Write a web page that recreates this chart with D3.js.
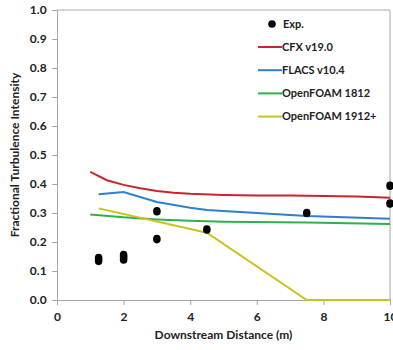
<!DOCTYPE html>
<html>
<head>
<meta charset="utf-8">
<script src="https://cdn.jsdelivr.net/npm/d3@7"></script>
<style>
  body { margin: 0; background: #fff; }
  text { font-family: Lato, "Open Sans", sans-serif; font-weight: bold; fill: #222; }
</style>
</head>
<body>
<div id="chart"></div>
<script>
// experimental points
var expX = [1.25, 1.25, 2, 2, 2, 3, 3, 4.5, 7.5, 10, 10];
var expY = [0.145, 0.135, 0.155, 0.148, 0.14, 0.306, 0.21, 0.243, 0.3, 0.394, 0.333];

// simulation lines
var cfxX = [1, 1.5, 2, 2.5, 3, 3.5, 4, 5, 6, 7, 8, 9, 10];
var cfxY = [0.442, 0.413, 0.397, 0.385, 0.376, 0.37, 0.366, 0.362, 0.36, 0.36, 0.359, 0.357, 0.353];
var flacsX = [1.25, 2, 3, 4, 4.5, 6, 7.5, 10];
var flacsY = [0.365, 0.372, 0.338, 0.318, 0.31, 0.3, 0.29, 0.28];
var of1812X = [1, 2, 3, 4, 5, 7.5, 10];
var of1812Y = [0.295, 0.285, 0.278, 0.273, 0.27, 0.267, 0.262];
var of1912X = [1.25, 4.5, 7.5, 10];
var of1912Y = [0.316, 0.232, 0, 0];

var xTicks = [0, 2, 4, 6, 8, 10];
var yTicks = [0, 0.1, 0.2, 0.3, 0.4, 0.5, 0.6, 0.7, 0.8, 0.9, 1.0];

var seriesNames = ["CFX v19.0", "FLACS v10.4", "OpenFOAM 1812", "OpenFOAM 1912+"];
var seriesColors = ["#c8252c", "#2f7fd0", "#2eb04a", "#c9c21f"];

var w = 393, h = 350;
var margin = {left: 57, right: 3, top: 10, bottom: 50};

var svg = d3.select("#chart").append("svg")
  .attr("width", w)
  .attr("height", h);

var x = d3.scaleLinear().domain([0, 10]).range([margin.left, w - margin.right]);
var y = d3.scaleLinear().domain([0, 1]).range([h - margin.bottom, margin.top]);

// plot border (top and right)
svg.append("path")
  .attr("d", "M" + x(0) + "," + y(1) + "H" + x(10) + "V" + y(0))
  .attr("fill", "none")
  .attr("stroke", "#a6a6a6")
  .attr("stroke-width", 1);

var xAxis = d3.axisBottom(x).tickValues(xTicks).tickSize(5).tickSizeOuter(0).tickFormat(d3.format("d"));
var yAxis = d3.axisLeft(y).tickValues(yTicks).tickSize(5).tickSizeOuter(0).tickFormat(d3.format(".1f"));

var gx = svg.append("g")
  .attr("transform", "translate(0," + y(0) + ")")
  .call(xAxis);
var gy = svg.append("g")
  .attr("transform", "translate(" + x(0) + ",0)")
  .call(yAxis);

[gx, gy].forEach(function(g) {
  g.selectAll(".domain, line").attr("stroke", "#a6a6a6");
  g.selectAll("text").attr("font-size", "12px").attr("fill", "#222");
});
gx.selectAll("text").attr("dy", "1.05em");
gy.selectAll("text").attr("dx", "-0.2em");

var line = d3.line()
  .x(function(d) { return x(d[0]); })
  .y(function(d) { return y(d[1]); });

var lines = [
  d3.zip(cfxX, cfxY),
  d3.zip(flacsX, flacsY),
  d3.zip(of1812X, of1812Y),
  d3.zip(of1912X, of1912Y)
];

svg.selectAll(".series")
  .data(lines)
  .enter()
  .append("path")
  .attr("class", "series")
  .attr("d", line)
  .attr("fill", "none")
  .attr("stroke", function(d, i) { return seriesColors[i]; })
  .attr("stroke-width", 2);

svg.selectAll(".exp")
  .data(d3.zip(expX, expY))
  .enter()
  .append("ellipse")
  .attr("class", "exp")
  .attr("cx", function(d) { return x(d[0]); })
  .attr("cy", function(d) { return y(d[1]); })
  .attr("rx", 3.8)
  .attr("ry", 4.3)
  .attr("fill", "#000");

// legend
var legend = svg.append("g");
legend.append("circle")
  .attr("cx", 272).attr("cy", 24).attr("r", 3.8).attr("fill", "#000");
legend.append("text")
  .attr("x", 283).attr("y", 24).attr("dy", "0.35em")
  .attr("font-size", "11px").text("Exp.");

seriesNames.forEach(function(name, i) {
  var ly = 47 + i * 23.2;
  legend.append("line")
    .attr("x1", 258).attr("x2", 282)
    .attr("y1", ly).attr("y2", ly)
    .attr("stroke", seriesColors[i]).attr("stroke-width", 2);
  legend.append("text")
    .attr("x", 282).attr("y", ly).attr("dy", "0.35em")
    .attr("font-size", "11px").text(name);
});

// axis titles
svg.append("text")
  .attr("x", (x(0) + x(10)) / 2)
  .attr("y", 339)
  .attr("text-anchor", "middle")
  .attr("font-size", "12px")
  .text("Downstream Distance (m)");

svg.append("text")
  .attr("transform", "translate(15," + y(0.5) + ") rotate(-90)")
  .attr("text-anchor", "middle")
  .attr("dy", "0.35em")
  .attr("font-size", "12px")
  .text("Fractional Turbulence Intensity");
</script>
</body>
</html>
